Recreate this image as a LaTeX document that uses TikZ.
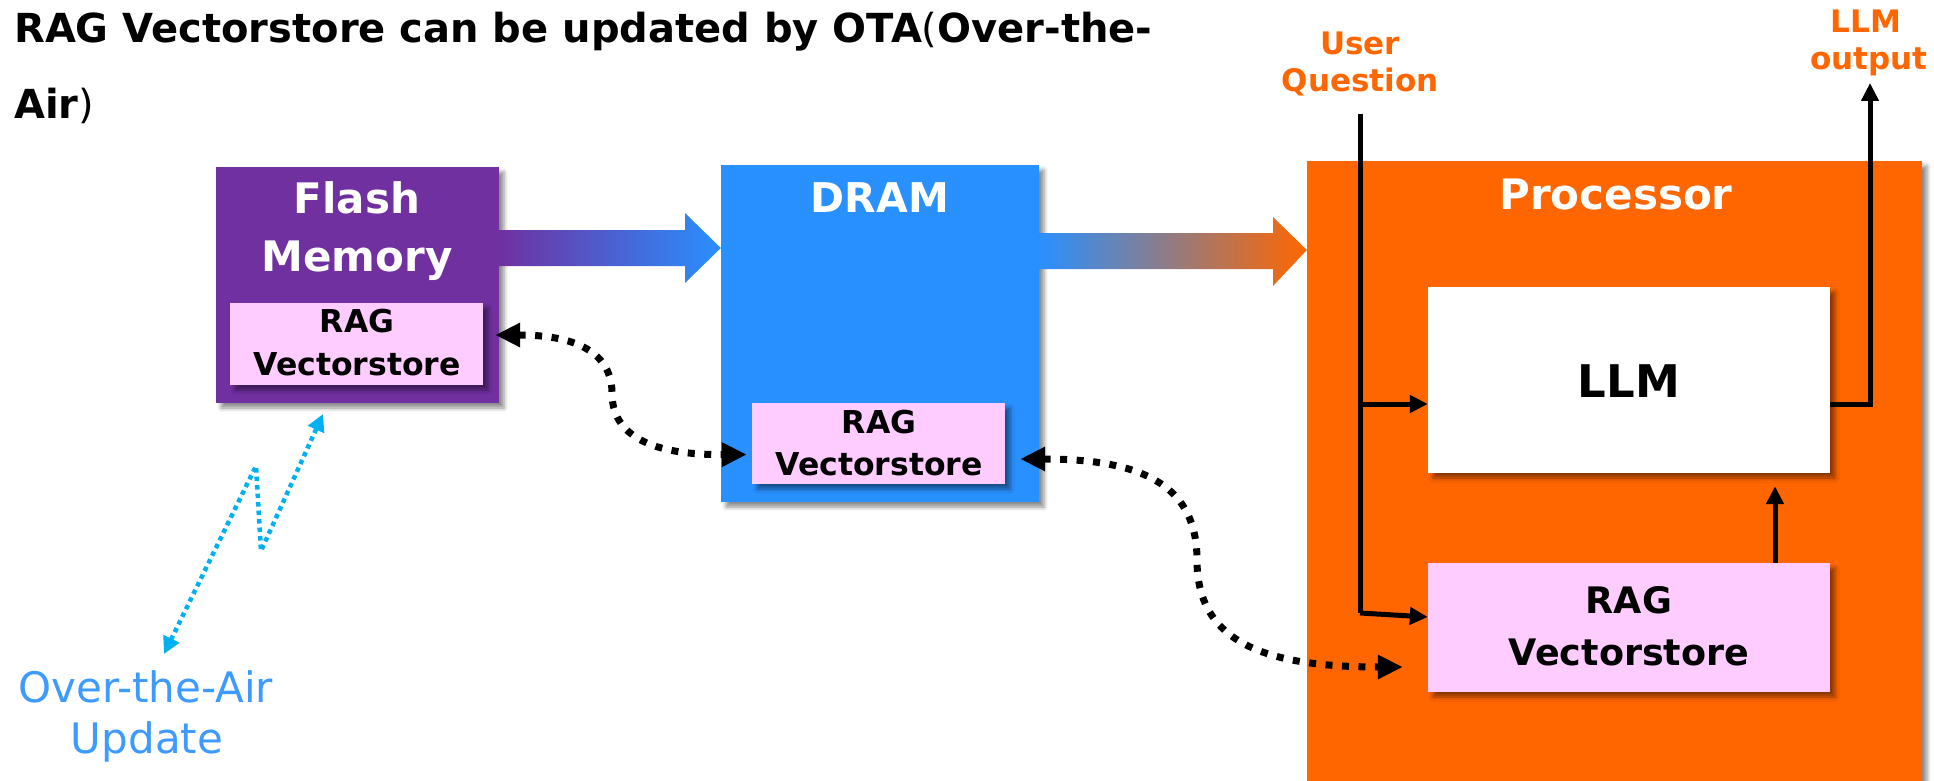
\documentclass[tikz,border=0pt]{standalone}
\usepackage{fontspec}
\setmainfont{DejaVu Sans}
\usetikzlibrary{arrows.meta,shadows.blur,calc}

\definecolor{flashpurple}{HTML}{7030A0}
\definecolor{drambl}{HTML}{2990FF}
\definecolor{procorange}{HTML}{FF6600}
\definecolor{ragpink}{HTML}{FFCCFF}
\definecolor{otacyan}{HTML}{00B0F0}
\definecolor{otatext}{HTML}{3D9BFF}

\tikzset{
  box/.style={rectangle, inner sep=0pt, draw=none,
    blur shadow={shadow xshift=5pt, shadow yshift=-5pt,
                 shadow blur radius=4pt, shadow opacity=45}},
  lbl/.style={anchor=base, inner sep=0pt,
    font=\bfseries\fontsize{#1}{#1}\selectfont},
  solidarrow/.style={line width=5pt, line join=miter,
    -{Triangle[length=18pt,width=17pt]}},
  dotlink/.style={line width=7pt, dash pattern=on 7pt off 9.5pt,
    {Triangle[length=25pt,width=23pt]}-{Triangle[length=25pt,width=23pt]}},
  otalink/.style={otacyan, line width=4.5pt, dash pattern=on 4.5pt off 4pt,
    {Triangle[length=17pt,width=17pt]}-{Triangle[length=17pt,width=17pt]}},
}

\begin{document}
\begin{tikzpicture}[x=1pt, y=-1pt]
\useasboundingbox (0,0) rectangle (1934,781);

% heading
\node[lbl=40, anchor=base west] (title1) at (14,43)
  {RAG Vectorstore can be updated by OTA{\mdseries(}Over-the-};
\node[lbl=40, anchor=base west] (title2) at (14,118)
  {Air{\mdseries)}};

% memory blocks
\node[box, fill=flashpurple, minimum width=283pt, minimum height=236pt]
  (flash) at (357.5,285) {};
\node[box, fill=drambl, minimum width=318pt, minimum height=337pt]
  (dram) at (880,333.5) {};
\node[box, fill=procorange, minimum width=615pt, minimum height=620pt]
  (proc) at (1614.5,471) {};

% inner blocks
\node[box, fill=ragpink, minimum width=253pt, minimum height=82pt]
  (rag1) at (356.5,344) {};
\node[box, fill=ragpink, minimum width=253pt, minimum height=81pt]
  (rag2) at (878.5,443.5) {};
\node[box, fill=white, minimum width=402pt, minimum height=186pt]
  (llm) at (1629,380) {};
\node[box, fill=ragpink, minimum width=402pt, minimum height=129pt]
  (rag3) at (1629,627.5) {};

% block titles
\node[lbl=42, text=white] (flashL1) at (357,213) {Flash};
\node[lbl=42, text=white] (flashL2) at (357,271) {Memory};
\node[lbl=41, text=white] (dramL) at (880,212) {DRAM};
\node[lbl=42, text=white] (procL) at (1616,209) {Processor};
\node[lbl=45] (llmL) at (1629,397) {LLM};
\node[lbl=31.5] (rag1L1) at (357,332) {RAG};
\node[lbl=31.5] (rag1L2) at (357,375) {Vectorstore};
\node[lbl=31.5] (rag2L1) at (879,433) {RAG};
\node[lbl=31.5] (rag2L2) at (879,475) {Vectorstore};
\node[lbl=36.5] (rag3L1) at (1629,613) {RAG};
\node[lbl=36.5] (rag3L2) at (1629,665) {Vectorstore};

% outside labels
\node[lbl=31, text=procorange] (uqL1) at (1360,55) {User};
\node[lbl=31, text=procorange] (uqL2) at (1360,92) {Question};
\node[lbl=31, text=procorange] (outL1) at (1866,33) {LLM};
\node[lbl=31, text=procorange] (outL2) at (1869,70) {output};
\node[anchor=base, inner sep=0pt, text=otatext,
  font=\fontsize{42}{42}\selectfont] (otaL1) at (146,702) {Over-the-Air};
\node[anchor=base, inner sep=0pt, text=otatext,
  font=\fontsize{42}{42}\selectfont] (otaL2) at (147,753) {Update};

% data flow between memories
\shade[left color=flashpurple, right color=drambl]
  (flash.east |- 0,230) -- (685,230) -- (685,213) -- (dram.west |- 0,248)
  -- (685,283) -- (685,266) -- (flash.east |- 0,266) -- cycle;
\shade[left color=drambl, right color=procorange]
  (dram.east |- 0,233) -- (1273,233) -- (1273,217) -- (proc.west |- 0,250)
  -- (1273,286) -- (1273,269) -- (dram.east |- 0,269) -- cycle;

% question and answer paths
\coordinate (uqtop) at (1360,114);
\coordinate (uqbot) at (1360,613);
\coordinate (outtop) at (1870,83);
\draw[line width=5pt] (uqtop) -- (uqbot);
\draw[solidarrow] (uqtop |- 0,404) -- (llm.west |- 0,404);
\draw[solidarrow] (uqbot) -- (rag3.west |- 0,617);
\draw[solidarrow] (llm.east |- 0,404) -- (outtop |- 0,404) -- (outtop);
\draw[solidarrow, shorten >=13pt] (rag3.north -| 1775,0) -- (llm.south -| 1775,0);

% vectorstore synchronisation (S-shaped links)
\coordinate (s1a) at ($(rag1.east)+(12,-9)$);
\coordinate (s1m) at (612,393);
\coordinate (s1b) at ($(rag2.west)+(-5,11)$);
\draw[dotlink] (s1a) .. controls (590,335) and (612,362) .. (s1m)
  .. controls (612,435) and (650,455) .. (s1b);
\coordinate (s2a) at ($(rag2.east)+(15,15.5)$);
\coordinate (s2m) at (1197,560);
\coordinate (s2b) at ($(rag3.west)+(-25,39.5)$);
\draw[dotlink] (s2a) .. controls (1150,459) and (1197,490) .. (s2m)
  .. controls (1197,640) and (1260,667) .. (s2b);

% over-the-air update link
\coordinate (otaLow) at (164,654);
\coordinate (otaHigh) at (323,414);
\draw[otalink] (otaLow) -- (256,466) -- (261,551) -- (otaHigh);
\end{tikzpicture}
\end{document}
